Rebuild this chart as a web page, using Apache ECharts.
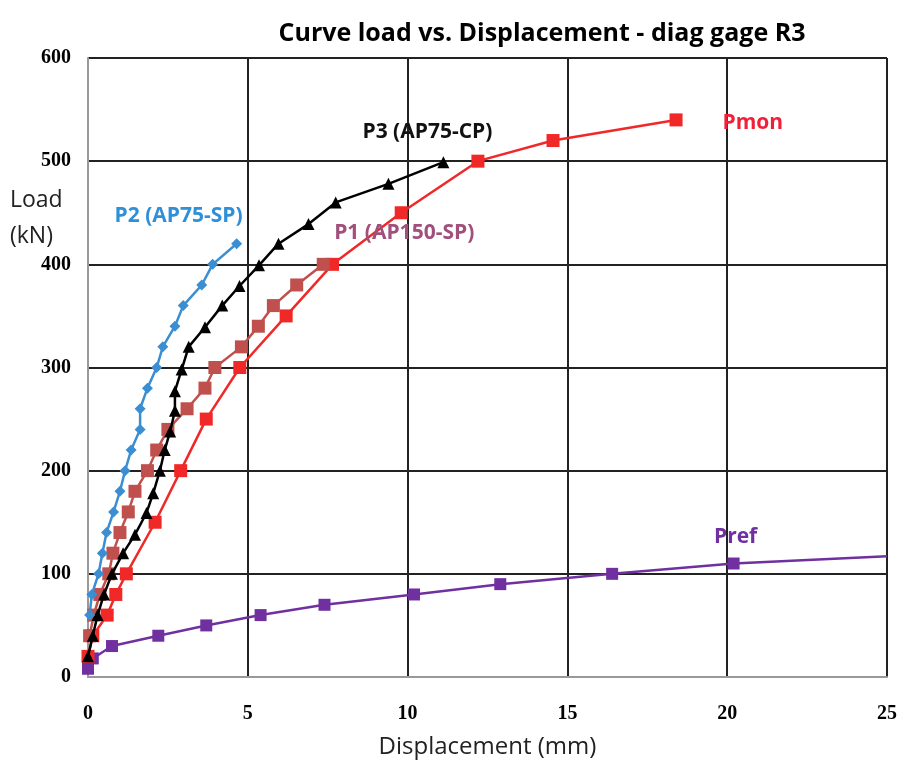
<!DOCTYPE html>
<html>
<head>
<meta charset="utf-8">
<script src="https://cdn.jsdelivr.net/npm/echarts@6/dist/echarts.min.js"></script>
<style>
  html, body { margin: 0; padding: 0; background: #fff; }
  #chart { width: 898px; height: 762px; }
</style>
</head>
<body>
<div id="chart"></div>
<script>
// load (kN) vs displacement (mm)
const pmon = [[0, 20], [0.15, 40], [0.6, 60], [0.87, 80], [1.2, 100], [2.1, 150], [2.9, 200], [3.7, 250],
  [4.75, 300], [6.2, 350], [7.65, 400], [9.8, 450], [12.2, 500], [14.55, 520], [18.4, 540]]
const p1 = [[0.05, 40], [0.18, 60], [0.37, 80], [0.65, 100], [0.78, 120], [1.0, 140], [1.26, 160],
  [1.47, 180], [1.86, 200], [2.15, 220], [2.5, 240], [3.1, 260], [3.66, 280], [3.97, 300], [4.8, 320],
  [5.33, 340], [5.8, 360], [6.53, 380], [7.36, 400]]
const p2 = [[0.05, 60], [0.12, 80], [0.33, 100], [0.45, 120], [0.58, 140], [0.8, 160], [1.0, 180],
  [1.16, 200], [1.35, 220], [1.63, 240], [1.63, 260], [1.86, 280], [2.15, 300], [2.34, 320], [2.72, 340],
  [2.98, 360], [3.56, 380], [3.9, 400], [4.65, 420]]
const p3 = [[0, 20], [0.15, 40], [0.3, 60], [0.5, 80], [0.75, 100], [1.1, 120], [1.47, 138], [1.83, 159],
  [2.04, 178], [2.25, 200], [2.4, 220], [2.57, 238], [2.72, 258], [2.72, 277], [2.93, 298], [3.15, 320],
  [3.66, 339], [4.2, 360], [4.74, 379], [5.35, 399], [5.96, 420], [6.9, 439], [7.75, 460], [9.4, 478],
  [11.12, 499]]
const pref = [[0, 8], [0.15, 18], [0.75, 30], [2.2, 40], [3.7, 50], [5.4, 60], [7.4, 70], [10.2, 80],
  [12.9, 90], [16.4, 100], [20.2, 110], [25, 117]]
const xTicks = [0, 5, 10, 15, 20, 25]
const yTicks = [0, 100, 200, 300, 400, 500, 600]

const chart = echarts.init(document.getElementById('chart'))

const tickFont = { fontFamily: 'Liberation Serif', fontWeight: 'bold', fontSize: 20, color: '#000' }
const nameFont = { fontFamily: 'Open Sans', fontSize: 24, color: '#222' }
const tagFont = { fontFamily: 'Open Sans', fontWeight: 'bold', fontSize: 21 }

// put a text label on the last point of a curve
function tagLast(data, text, color, offset, pos) {
  return data.map((d, i) => {
    if (i !== data.length - 1) return d
    return {
      value: d,
      label: Object.assign({ show: true, formatter: text, position: pos || 'right', offset: offset, color: color }, tagFont)
    }
  })
}

const prefData = pref.map((d, i) => i === pref.length - 1 ? { value: d, symbol: 'none' } : d)
prefData[10] = {
  value: pref[10],
  label: Object.assign({ show: true, formatter: 'Pref', position: 'top', offset: [2, -5], color: '#7030A0' }, tagFont)
}

const option = {
  animation: false,
  title: {
    text: 'Curve load vs. Displacement - diag gage R3',
    left: 537, top: 16, textAlign: 'center',
    textStyle: { fontFamily: 'Open Sans', fontWeight: 'bold', fontSize: 25, color: '#000' }
  },
  grid: { left: 88, right: 11, top: 58, bottom: 85, outerBoundsMode: 'none' },
  xAxis: {
    type: 'value', min: xTicks[0], max: xTicks[xTicks.length - 1], interval: 5,
    name: 'Displacement (mm)', nameLocation: 'middle', nameGap: 58, nameTextStyle: nameFont,
    axisLine: { lineStyle: { color: '#999', width: 2 } },
    axisTick: { show: false },
    axisLabel: Object.assign({ margin: 27 }, tickFont),
    splitLine: { lineStyle: { color: '#222', width: 2 } }
  },
  yAxis: {
    type: 'value', min: yTicks[0], max: yTicks[yTicks.length - 1], interval: 100,
    axisLine: { show: true, lineStyle: { color: '#999', width: 2 } },
    axisTick: { show: false },
    axisLabel: Object.assign({ margin: 17 }, tickFont),
    splitLine: { lineStyle: { color: '#222', width: 2 } }
  },
  graphic: [
    { type: 'text', left: 10, top: 182, style: { text: 'Load\n(kN)', fill: '#222', font: '23px "Open Sans"', lineHeight: 36 } }
  ],
  series: [
    {
      name: 'Pref', type: 'line', data: prefData, symbol: 'rect', symbolSize: 12,
      lineStyle: { color: '#7030A0', width: 2.5 }, itemStyle: { color: '#7030A0' }
    },
    {
      name: 'Pmon', type: 'line', data: tagLast(pmon, 'Pmon', '#F0203A', [35, 3]), symbol: 'rect', symbolSize: 13,
      lineStyle: { color: '#F02828', width: 2.5 }, itemStyle: { color: '#F02828' }, z: 3
    },
    {
      name: 'P1', type: 'line', data: tagLast(p1, 'P1 (AP150-SP)', '#A0507A', [81, -9], 'top'), symbol: 'rect', symbolSize: 13,
      lineStyle: { color: '#C0504D', width: 2.5 }, itemStyle: { color: '#C0504D' }, z: 4
    },
    {
      name: 'P3', type: 'line', data: tagLast(p3, 'P3 (AP75-CP)', '#111', [-16, -9], 'top'), symbol: 'triangle', symbolSize: 12,
      lineStyle: { color: '#000', width: 2.5 }, itemStyle: { color: '#000' }, z: 5
    },
    {
      name: 'P2', type: 'line', data: tagLast(p2, 'P2 (AP75-SP)', '#2F8FD8', [-58, -7], 'top'), symbol: 'diamond', symbolSize: 11,
      lineStyle: { color: '#3C8ED2', width: 2.5 }, itemStyle: { color: '#3C8ED2' }, z: 6
    }
  ]
}

chart.setOption(option)
</script>
</body>
</html>
